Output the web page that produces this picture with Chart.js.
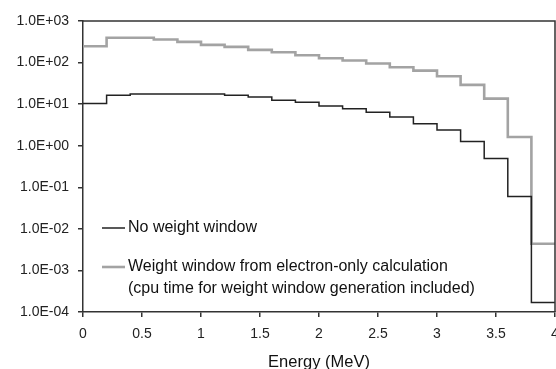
<!DOCTYPE html>
<html>
<head>
<meta charset="utf-8">
<script src="https://cdn.jsdelivr.net/npm/chart.js@4/dist/chart.umd.min.js"></script>
<style>
  html, body { margin: 0; padding: 0; background: #fff; }
  #wrap { width: 556px; height: 369px; }
</style>
</head>
<body>
<div id="wrap"><canvas id="c"></canvas></div>
<script>
// bordes izquierdos de cada bin de energía (MeV)
const binEdges = [0, 0.2, 0.4, 0.6, 0.8, 1.0, 1.2, 1.4, 1.6, 1.8, 2.0, 2.2, 2.4, 2.6, 2.8, 3.0, 3.2, 3.4, 3.6, 3.8, 4.0];
const noWeightWindow = [10.3, 16.3, 17.6, 17.6, 17.6, 17.6, 16.3, 14.9, 12.4, 11.1, 9.0, 7.8, 6.35, 4.9, 3.39, 2.39, 1.27, 0.495, 0.06, 0.00017];
const weightWindowElectron = [247, 394, 394, 358, 315, 267, 239, 202, 177, 150, 127, 112, 94.6, 77, 64, 47, 29, 13.6, 1.62, 0.0044];
const yTickValues = [1e-4, 1e-3, 1e-2, 1e-1, 1e0, 1e1, 1e2, 1e3];
const xTickValues = [0, 0.5, 1, 1.5, 2, 2.5, 3, 3.5, 4];
const seriesLabels = [
  ['No weight window'],
  ['Weight window from electron-only calculation', '(cpu time for weight window generation included)']
];

const FONT = "'Liberation Sans', Arial, sans-serif";

// convierte los valores de bin en puntos escalonados (el último se repite en x=4)
function toSteps(values) {
  const pts = values.map((v, i) => ({ x: binEdges[i], y: v }));
  pts.push({ x: binEdges[values.length], y: values[values.length - 1] });
  return pts;
}

function sciLabel(v) {
  const e = Math.round(Math.log10(v));
  const sign = e < 0 ? '-' : '+';
  return '1.0E' + sign + String(Math.abs(e)).padStart(2, '0');
}

// marco del área de gráfico + leyenda dentro del área
const framePlugin = {
  id: 'frame',
  afterDraw(chart) {
    const { ctx, chartArea: a } = chart;
    ctx.save();
    ctx.strokeStyle = '#333';
    ctx.lineWidth = 1.5;
    ctx.beginPath();
    ctx.moveTo(a.left, a.top);
    ctx.lineTo(a.right, a.top);
    ctx.lineTo(a.right, a.bottom);
    ctx.stroke();

    // leyenda
    const items = [
      { y: 228, ds: chart.data.datasets[0] },
      { y: 267, ds: chart.data.datasets[1] }
    ];
    ctx.font = '16px ' + FONT;
    ctx.textBaseline = 'middle';
    ctx.fillStyle = '#111';
    items.forEach(it => {
      ctx.strokeStyle = it.ds.borderColor;
      ctx.lineWidth = it.ds.borderWidth;
      ctx.beginPath();
      ctx.moveTo(102, it.y);
      ctx.lineTo(125, it.y);
      ctx.stroke();
      it.ds.label.forEach((line, k) => {
        ctx.fillText(line, 128, it.y + k * 21.5);
      });
    });
    ctx.restore();
  }
};

new Chart(document.getElementById('c'), {
  type: 'line',
  data: {
    datasets: [
      {
        label: seriesLabels[0],
        data: toSteps(noWeightWindow),
        borderColor: '#222',
        borderWidth: 1.5,
        stepped: 'before',
        pointRadius: 0,
        fill: false
      },
      {
        label: seriesLabels[1],
        data: toSteps(weightWindowElectron),
        borderColor: '#a3a3a3',
        borderWidth: 2.6,
        stepped: 'before',
        pointRadius: 0,
        fill: false
      }
    ]
  },
  options: {
    responsive: true,
    maintainAspectRatio: false,
    animation: false,
    layout: { padding: { top: 21, right: 1, left: 0, bottom: 0 } },
    plugins: {
      legend: { display: false },
      tooltip: { enabled: false }
    },
    scales: {
      x: {
        type: 'linear',
        min: 0,
        max: 4,
        afterBuildTicks(scale) {
          scale.ticks = xTickValues.map(v => ({ value: v }));
        },
        afterFit(scale) {
          scale.height = 57;
          // el "4" del extremo queda cortado, como en el original
          scale.paddingRight = 0;
          scale.paddingLeft = 0;
        },
        ticks: {
          color: '#222',
          font: { family: FONT, size: 14 },
          padding: 9,
          maxRotation: 0,
          autoSkip: false,
          callback: v => String(v)
        },
        grid: {
          drawOnChartArea: false,
          drawTicks: true,
          tickLength: 5,
          color: '#333',
          lineWidth: 1.5
        },
        border: { color: '#333', width: 1.5 },
        title: {
          display: true,
          text: 'Energy (MeV)',
          color: '#111',
          font: { family: FONT, size: 16.5 },
          padding: { top: 7, bottom: -3 }
        }
      },
      y: {
        type: 'logarithmic',
        min: 1e-4,
        max: 1e3,
        afterBuildTicks(scale) {
          scale.ticks = yTickValues.map(v => ({ value: v }));
        },
        afterFit(scale) { scale.width = 83; },
        ticks: {
          color: '#222',
          font: { family: FONT, size: 14 },
          padding: 9,
          autoSkip: false,
          callback: v => sciLabel(v)
        },
        grid: {
          drawOnChartArea: false,
          drawTicks: true,
          tickLength: 5,
          color: '#333',
          lineWidth: 1.5
        },
        border: { color: '#333', width: 1.5 }
      }
    }
  },
  plugins: [framePlugin]
});
</script>
</body>
</html>
